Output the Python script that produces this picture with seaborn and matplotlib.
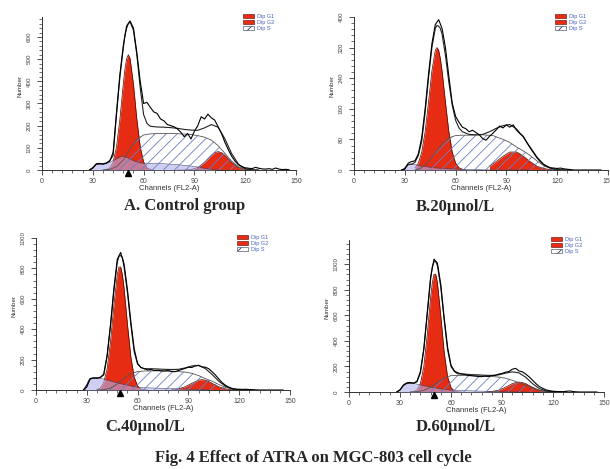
import seaborn as sns
import matplotlib.pyplot as plt
from matplotlib.patches import Patch
from matplotlib.ticker import MultipleLocator

sns.set_style('ticks')
plt.rcParams['font.family'] = ['Liberation Sans', 'DejaVu Sans']
plt.rcParams['hatch.linewidth'] = 0.6

# ---- channel grids (FL2-A) ----
raw_ch = [28, 30, 32, 34, 36, 38, 40, 42, 44, 46, 48, 50, 52, 54, 56, 58, 60, 62, 64, 66,
          68, 70, 72, 74, 76, 78, 80, 82, 84, 86, 88, 90, 92, 94, 96, 98, 100, 102, 104, 106,
          108, 110, 112, 114, 116, 118, 120, 122, 124, 126, 128, 130, 132, 134, 136, 138, 140, 142, 144, 146]
fit_ch = [28, 30, 32, 34, 36, 38, 40, 42, 44, 46, 48, 49, 50, 51, 52, 54, 56, 58, 60, 62,
          64, 68, 72, 76, 80, 84, 88, 92, 96, 100, 104, 108, 112, 116, 120, 124, 128]
g1_ch = [36, 38, 40, 42, 44, 46, 48, 49, 50, 51, 52, 54, 56, 58, 60, 62, 64, 66]
g2_ch = [80, 84, 88, 92, 96, 98, 100, 102, 104, 106, 108, 112, 116, 120, 124, 128]
s_ch = [36, 40, 44, 48, 52, 56, 60, 64, 70, 76, 82, 88, 92, 96, 100, 104, 108, 112, 116, 120, 124]
deb_ch = [29, 31, 33, 36, 40, 44, 47, 50, 54, 58, 64, 72, 80, 88, 96, 104]

# ---- A. control ----
raw_a = [0, 8, 28, 30, 26, 30, 40, 80, 260, 430, 560, 650, 672, 640, 530, 400, 300, 305, 282, 262,
         255, 230, 222, 205, 200, 195, 185, 170, 150, 165, 140, 175, 200, 240, 230, 252, 235, 225, 195, 165,
         125, 92, 62, 40, 24, 15, 10, 8, 6, 12, 8, 5, 4, 6, 3, 9, 4, 2, 3, 1]
fit_a = [0, 11, 25, 27, 28, 32, 42, 65, 250, 420, 550, 610, 640, 660, 668, 630, 520, 370, 250, 210,
         197, 194, 193, 191, 188, 183, 180, 179, 190, 205, 193, 141, 74, 26, 6, 1, 0]
g1_a = [0, 2, 10, 36, 104, 229, 387, 456, 503, 520, 503, 387, 229, 104, 36, 10, 2, 0]
g2_a = [0, 0, 2, 11, 34, 50, 66, 78, 83, 78, 66, 34, 11, 2, 0, 0]
s_a = [0, 3, 15, 45, 95, 138, 158, 163, 165, 165, 163, 160, 155, 148, 135, 110, 75, 40, 15, 4, 0]
deb_a = [0, 22, 27, 28, 33, 52, 62, 57, 42, 32, 30, 28, 24, 18, 8, 0]

# ---- B. 20 umol/L ----
raw_b = [0, 2, 18, 22, 24, 42, 85, 160, 250, 330, 380, 393, 370, 320, 245, 175, 140, 125, 112, 108,
         100, 104, 98, 92, 82, 78, 88, 96, 105, 115, 110, 118, 112, 118, 104, 95, 88, 72, 58, 45,
         32, 22, 14, 9, 6, 5, 4, 5, 3, 2, 1, 0, 0, 0, 0, 0, 0, 0, 0, 0]
fit_b = [0, 4, 14, 15, 20, 38, 75, 150, 240, 320, 370, 378, 376, 370, 355, 300, 230, 170, 130, 110,
         100, 93, 92, 93, 100, 109, 116, 119, 107, 86, 60, 34, 15, 5, 1, 0, 0]
g1_b = [6, 18, 47, 100, 177, 259, 313, 320, 313, 291, 259, 177, 100, 47, 18, 6, 2, 0]
g2_b = [10, 22, 36, 47, 47, 42, 36, 29, 22, 16, 10, 4, 1, 0, 0, 0]
s_b = [0, 6, 22, 45, 68, 84, 90, 91, 91, 92, 90, 80, 72, 60, 50, 38, 24, 11, 4, 1, 0]
deb_b = [0, 12, 16, 14, 10, 8, 6, 5, 4, 3, 2, 1, 0, 0, 0, 0]

# ---- C. 40 umol/L ----
raw_c = [0, 20, 75, 80, 78, 82, 100, 230, 430, 670, 860, 905, 830, 660, 450, 270, 175, 148, 140, 132,
         135, 128, 130, 126, 125, 128, 122, 120, 128, 135, 142, 150, 148, 158, 162, 152, 150, 140, 120, 98,
         72, 48, 30, 18, 10, 6, 5, 4, 5, 3, 2, 1, 0, 0, 0, 0, 0, 0, 0, 0]
fit_c = [0, 33, 72, 78, 79, 84, 104, 220, 420, 650, 840, 880, 885, 870, 810, 640, 430, 250, 170, 148,
         140, 140, 138, 136, 135, 136, 145, 158, 162, 141, 102, 57, 24, 7, 1, 0, 0]
g1_c = [3, 13, 49, 140, 317, 556, 760, 809, 809, 760, 671, 433, 218, 85, 26, 6, 1, 0]
g2_c = [1, 7, 21, 44, 65, 68, 65, 56, 44, 32, 21, 7, 1, 0, 0, 0]
s_c = [0, 2, 12, 40, 78, 108, 121, 125, 126, 125, 123, 118, 110, 95, 75, 58, 36, 17, 6, 1, 0]
deb_c = [0, 65, 78, 78, 72, 60, 50, 42, 32, 22, 15, 12, 10, 6, 2, 0]

# ---- D. 60 umol/L ----
raw_d = [0, 15, 55, 72, 75, 68, 85, 160, 340, 620, 900, 1040, 1010, 840, 580, 350, 210, 165, 150, 142,
         138, 130, 128, 125, 122, 120, 124, 122, 128, 130, 140, 145, 155, 160, 178, 185, 165, 158, 140, 118,
         92, 65, 42, 28, 16, 10, 6, 4, 3, 2, 6, 8, 3, 1, 0, 0, 0, 0, 0, 0]
fit_d = [0, 18, 50, 67, 70, 70, 80, 150, 330, 600, 880, 980, 1020, 1020, 990, 820, 560, 330, 200, 160,
         142, 140, 136, 134, 131, 130, 134, 147, 158, 150, 115, 65, 26, 8, 2, 0, 0]
g1_d = [0, 3, 17, 66, 199, 444, 740, 857, 922, 922, 857, 595, 309, 119, 35, 7, 1, 0]
g2_d = [1, 4, 14, 37, 65, 74, 78, 74, 65, 51, 37, 14, 4, 1, 0, 0]
s_d = [0, 3, 12, 38, 75, 110, 128, 130, 128, 126, 123, 117, 108, 92, 72, 50, 28, 12, 4, 1, 0]
deb_d = [0, 35, 65, 70, 62, 50, 42, 35, 25, 18, 12, 9, 6, 3, 1, 0]

panel_titles = ['A. Control group', 'B.20μnol/L', 'C.40μnol/L', 'D.60μnol/L']
y_max = [690, 400, 1000, 1190]
y_major = [100, 80, 200, 200]
y_minor = [20, 16, 40, 40]
g1_mean = [51, None, 49.5, 50]
legend_labels = ['Dip G1', 'Dip G2', 'Dip S']

panels = [
    (raw_a, fit_a, g1_a, g2_a, s_a, deb_a),
    (raw_b, fit_b, g1_b, g2_b, s_b, deb_b),
    (raw_c, fit_c, g1_c, g2_c, s_c, deb_c),
    (raw_d, fit_d, g1_d, g2_d, s_d, deb_d),
]

RED = '#e62c12'
LAV = '#b0b0ee'
HATCH = '#6a7fc0'
W, H = 610, 469
# axes boxes in pixels: left, top, right, bottom
boxes = [(42, 17, 296, 170), (354, 17, 608, 170), (36, 238, 290, 390), (349, 240, 604, 392)]
title_pos = [(185, 206), (455, 207), (145, 427), (456, 427)]

fig = plt.figure(figsize=(6.1, 4.69), dpi=100)

for i, (raw, fit, g1, g2, s, deb) in enumerate(panels):
    l, t, r, b = boxes[i]
    ax = fig.add_axes([l / W, 1 - b / H, (r - l) / W, (b - t) / H])
    ax.set_facecolor('none')

    # model components
    ax.fill_between(g1_ch, g1, color=RED, lw=0, zorder=2)
    ax.fill_between(g2_ch, g2, color=RED, lw=0, zorder=2)
    ax.plot(g1_ch, g1, color='#4a0a00', lw=0.5, zorder=3)
    ax.plot(g2_ch, g2, color='#4a0a00', lw=0.5, zorder=3)
    ax.fill_between(deb_ch, deb, color=LAV, alpha=0.6, lw=0, zorder=3)
    ax.plot(deb_ch, deb, color='#444466', lw=0.4, zorder=3)
    ax.fill_between(s_ch, s, facecolor='none', edgecolor=HATCH, hatch='///', lw=0, zorder=4)
    ax.plot(s_ch, s, color='#555555', lw=0.6, zorder=4)

    # fitted model and raw histogram
    sns.lineplot(x=fit_ch, y=fit, ax=ax, color='#222222', lw=0.8, zorder=5)
    sns.lineplot(x=raw_ch, y=raw, ax=ax, color='black', lw=0.8, zorder=6)

    if g1_mean[i] is not None:
        ax.plot([g1_mean[i]], [-0.018 * y_max[i]], marker='^', color='black',
                markersize=5, clip_on=False, zorder=7)

    ax.set_xlim(0, 150)
    ax.set_ylim(0, y_max[i])
    ax.xaxis.set_major_locator(MultipleLocator(30))
    ax.xaxis.set_minor_locator(MultipleLocator(6))
    ax.yaxis.set_major_locator(MultipleLocator(y_major[i]))
    ax.yaxis.set_minor_locator(MultipleLocator(y_minor[i]))
    sns.despine(ax=ax)
    for sp in ['left', 'bottom']:
        ax.spines[sp].set_linewidth(0.7)
        ax.spines[sp].set_color('#333333')
    ax.tick_params(which='major', length=3.5, width=0.6, color='#333333')
    ax.tick_params(which='minor', length=2, width=0.5, color='#333333')
    ax.tick_params(axis='x', labelsize=5, labelcolor='#444444', pad=2.5)
    ax.tick_params(axis='y', labelsize=4.5, labelcolor='#444444', labelrotation=90, pad=4)
    for lab in ax.get_yticklabels():
        lab.set_va('center')

    ax.set_xlabel('Channels (FL2-A)', fontsize=5.5, color='#333333')
    ax.xaxis.set_label_coords(0.5, -0.097)
    ax.set_ylabel('Number', fontsize=4.5, color='#333333')
    ax.yaxis.set_label_coords(-0.077, 0.55)

    handles = [Patch(facecolor=RED, edgecolor='#600000', lw=0.4),
               Patch(facecolor=RED, edgecolor='#600000', lw=0.4),
               Patch(facecolor='white', edgecolor='#333355', hatch='///', lw=0.4)]
    ax.legend(handles, legend_labels, loc='upper left', bbox_to_anchor=(0.78, 1.04),
              frameon=False, fontsize=4, labelcolor='#4a5fc0', handlelength=2.0,
              handleheight=0.8, handletextpad=0.5, labelspacing=0.2, borderpad=0)

    tx, ty = title_pos[i]
    fig.text(tx / W, 1 - ty / H, panel_titles[i], ha='center', va='center',
             fontsize=12, fontweight='bold', family=['Liberation Serif', 'DejaVu Serif'])

fig.text(313 / W, 1 - 458 / H, 'Fig. 4 Effect of ATRA on MGC-803 cell cycle', ha='center',
         va='center', fontsize=12, fontweight='bold', family=['Liberation Serif', 'DejaVu Serif'])

fig.savefig('out.png', dpi=100)
